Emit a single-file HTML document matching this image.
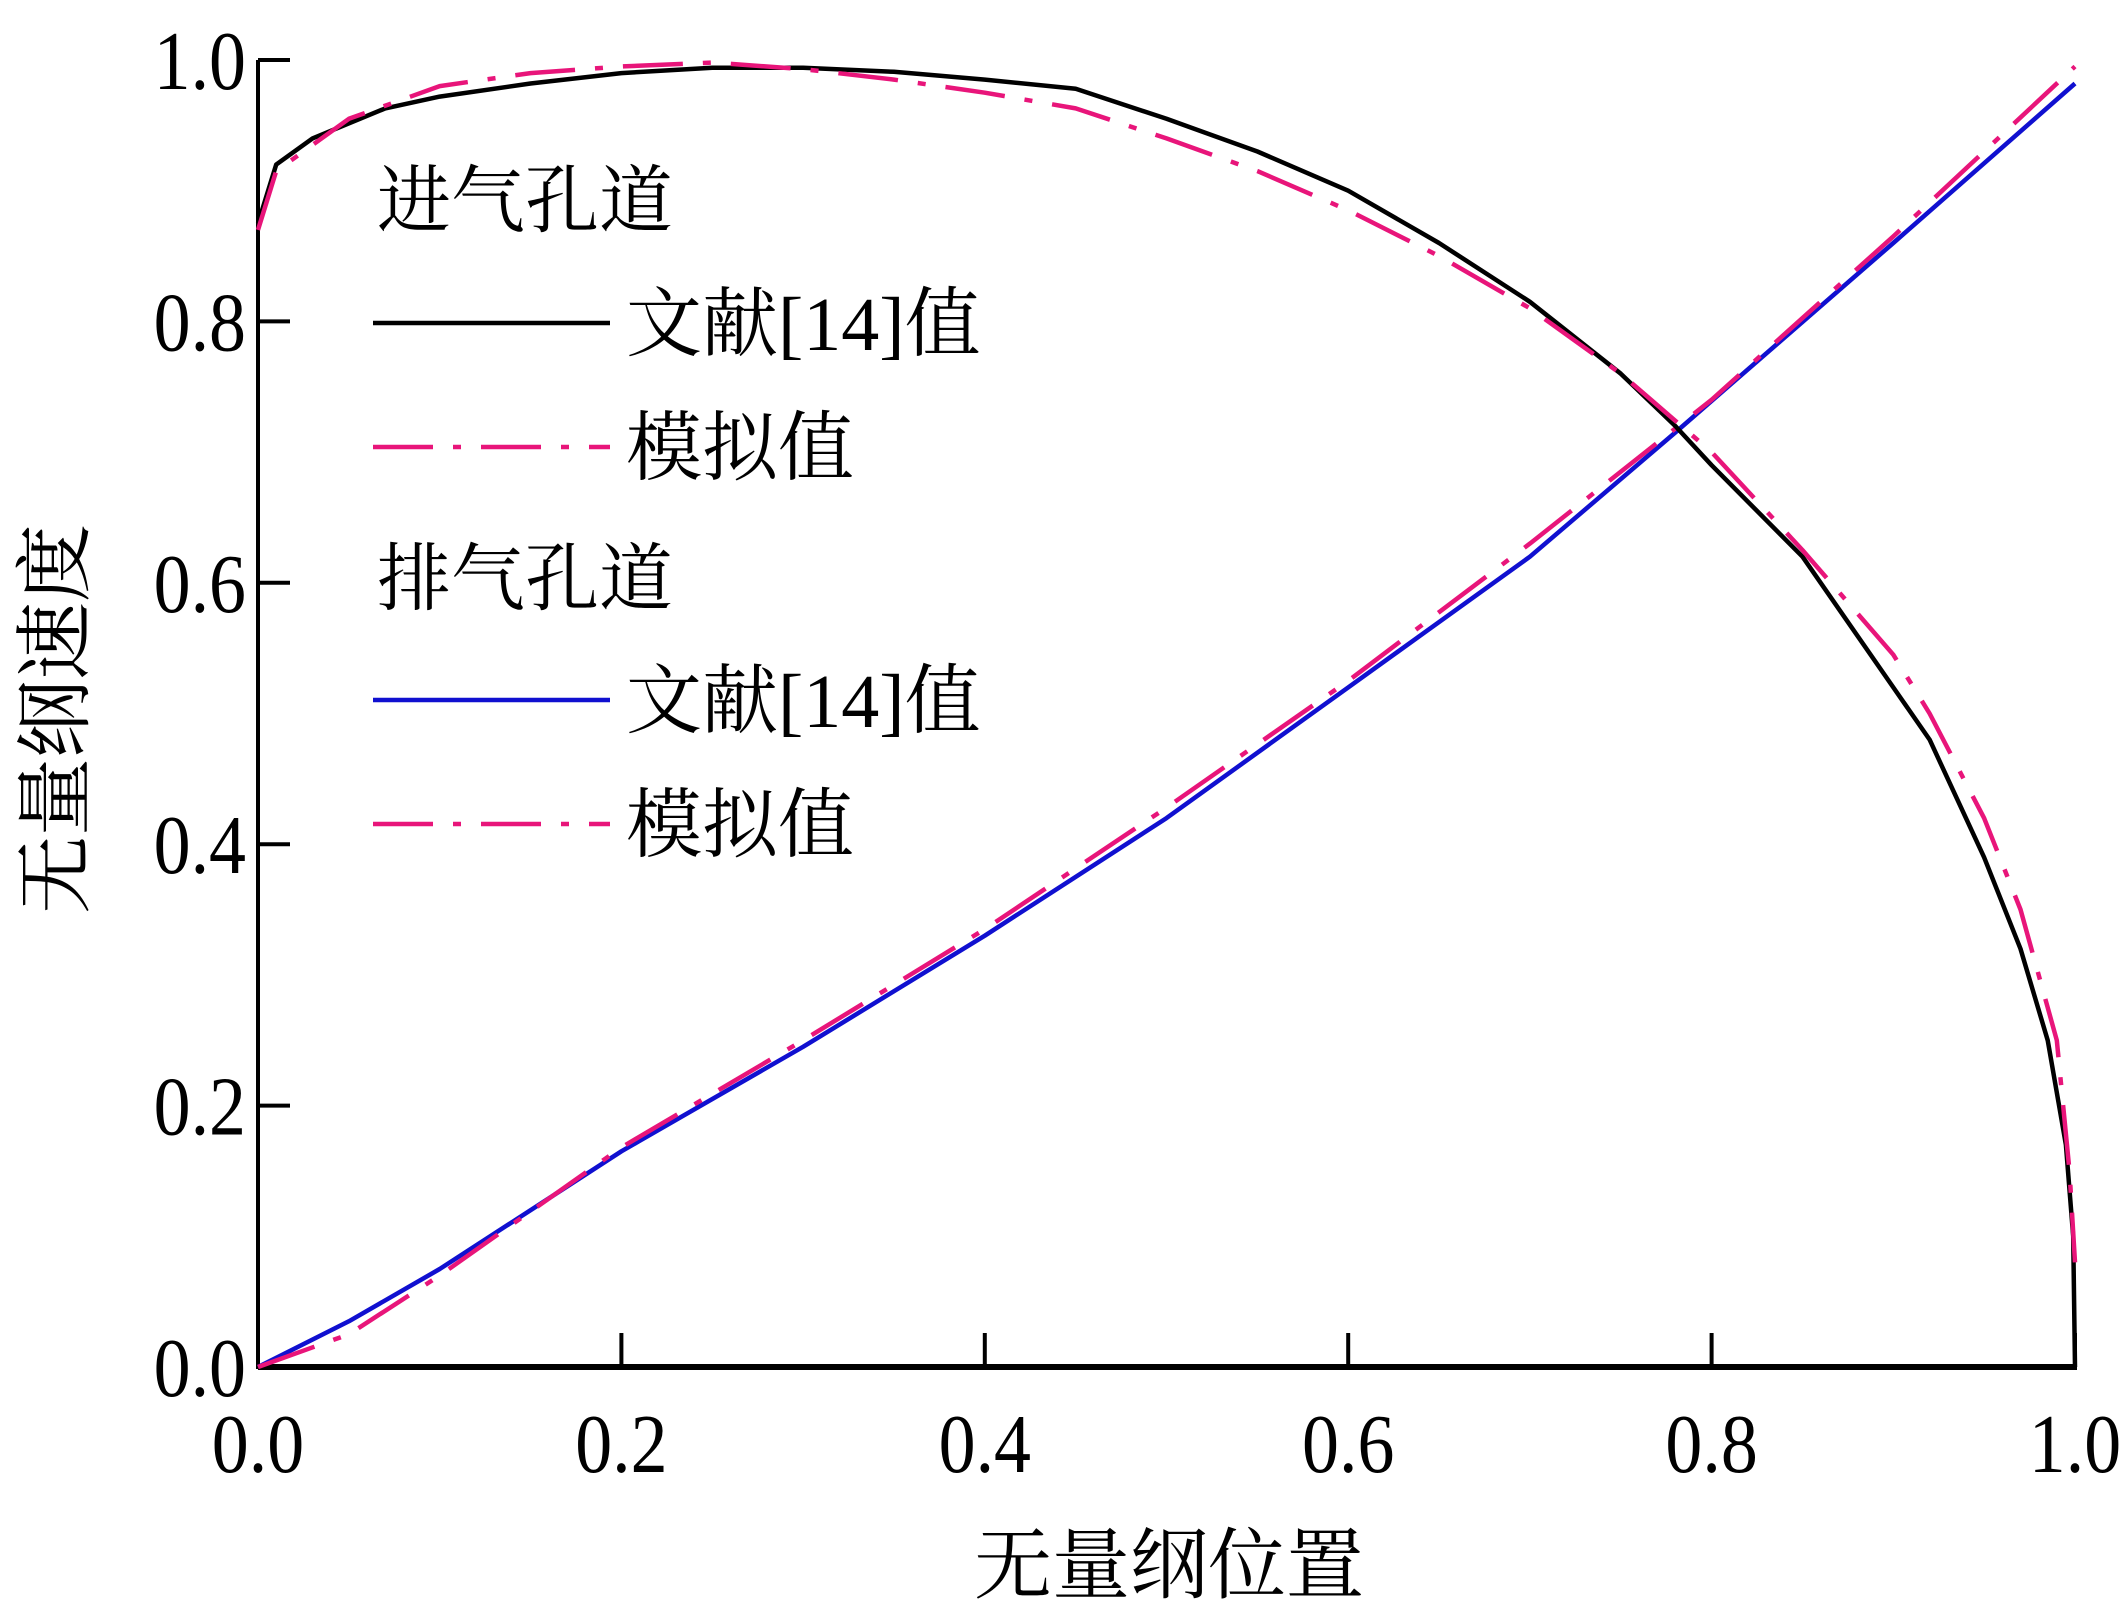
<!DOCTYPE html>
<html><head><meta charset="utf-8"><style>
body{margin:0;background:#fff}
svg{display:block}
text{font-family:"Liberation Serif","Noto Serif CJK SC",serif;fill:#000}
.cjk{font-family:"Noto Serif CJK SC","WenQuanYi Zen Hei",serif}
</style></head><body>
<svg id="chart" width="2126" height="1615" viewBox="0 0 2126 1615" xmlns="http://www.w3.org/2000/svg">
<g id="axes"></g>
<g id="series"></g>
<g>
<text class="cjk" x="377" y="226" font-size="74">进气孔道</text>
<line x1="373" y1="323" x2="610" y2="323" stroke="#000" stroke-width="4.5"/>
<text x="626" y="350" font-size="76"><tspan class="cjk">文献</tspan>[14]<tspan class="cjk">值</tspan></text>
<line x1="373" y1="447" x2="610" y2="447" stroke="#e8157a" stroke-width="4.5" stroke-dasharray="60 20 8 20"/>
<text class="cjk" x="626" y="474" font-size="76">模拟值</text>
<text class="cjk" x="377" y="604" font-size="74">排气孔道</text>
<line x1="373" y1="700" x2="610" y2="700" stroke="#1010d0" stroke-width="4.5"/>
<text x="626" y="727" font-size="76"><tspan class="cjk">文献</tspan>[14]<tspan class="cjk">值</tspan></text>
<line x1="373" y1="824" x2="610" y2="824" stroke="#e8157a" stroke-width="4.5" stroke-dasharray="60 20 8 20"/>
<text class="cjk" x="626" y="851" font-size="76">模拟值</text>
</g>
<text class="cjk" x="1169" y="1592" font-size="78" text-anchor="middle">无量纲位置</text>
<text class="cjk" x="0" y="0" font-size="78" text-anchor="middle" transform="translate(82,719) rotate(-90)">无量纲速度</text>
</svg>
<script>
const xTicks=[0,0.2,0.4,0.6,0.8,1.0];
const yTicks=[0,0.2,0.4,0.6,0.8,1.0];
const tickLabels=["0.0","0.2","0.4","0.6","0.8","1.0"];
const intakeRefX=[0,0.01,0.03,0.07,0.1,0.15,0.2,0.25,0.3,0.35,0.4,0.45,0.5,0.55,0.6,0.65,0.7,0.75,0.78,0.8,0.85,0.9,0.92,0.95,0.97,0.985,0.995,0.999,1.0];
const intakeRefY=[0.875,0.92,0.94,0.963,0.972,0.982,0.99,0.994,0.994,0.991,0.985,0.978,0.955,0.93,0.9,0.86,0.815,0.76,0.72,0.69,0.62,0.52,0.48,0.39,0.32,0.25,0.17,0.1,0];
const intakeSimX=[0,0.01,0.05,0.1,0.15,0.2,0.25,0.3,0.35,0.4,0.45,0.5,0.55,0.6,0.65,0.7,0.75,0.8,0.85,0.9,0.92,0.95,0.97,0.99,0.997,1.0];
const intakeSimY=[0.87,0.915,0.955,0.98,0.99,0.995,0.998,0.993,0.985,0.975,0.963,0.94,0.915,0.885,0.85,0.81,0.76,0.7,0.625,0.545,0.5,0.42,0.35,0.25,0.15,0.08];
const exhRefX=[0,0.05,0.1,0.2,0.3,0.4,0.5,0.6,0.7,0.78,0.9,1.0];
const exhRefY=[0,0.035,0.075,0.165,0.245,0.33,0.42,0.52,0.62,0.715,0.86,0.982];
const exhSimX=[0,0.05,0.1,0.2,0.3,0.4,0.5,0.6,0.7,0.8,0.9,1.0];
const exhSimY=[0,0.025,0.07,0.168,0.25,0.335,0.428,0.525,0.63,0.74,0.865,0.995];
const X0=258,X1=2075,Y0=1367,Y1=60;
const sx=v=>X0+(X1-X0)*v, sy=v=>Y0-(Y0-Y1)*v;
const NS="http://www.w3.org/2000/svg";
const axes=document.getElementById('axes'), ser=document.getElementById('series');
function mk(t,a,p){const e=document.createElementNS(NS,t);for(const k in a)e.setAttribute(k,a[k]);p.appendChild(e);return e;}
let e=mk('line',{x1:X0,y1:Y0,x2:X1+2,y2:Y0,stroke:'#000','stroke-width':6},axes);


e=mk('line',{x1:X0,y1:Y0+2,x2:X0,y2:Y1,stroke:'#000','stroke-width':4},axes);


xTicks.forEach((v,i)=>{
 let t=mk('line',{x1:sx(v),y1:Y0,x2:sx(v),y2:Y0-34,stroke:'#000','stroke-width':4},axes);
 
 
 let l=mk('text',{x:0,y:0,'font-size':84,'text-anchor':'middle',transform:`translate(${sx(v)},1472) scale(0.88,1)`},axes);
 l.textContent=tickLabels[i];
 
 
});
yTicks.forEach((v,i)=>{
 let t=mk('line',{x1:X0,y1:sy(v),x2:X0+32,y2:sy(v),stroke:'#000','stroke-width':4},axes);
 
 
 let l=mk('text',{x:0,y:0,'font-size':84,'text-anchor':'end',transform:`translate(${X0-12},${sy(v)+29}) scale(0.88,1)`},axes);
 l.textContent=tickLabels[i];
 
 
});
function path(xs,ys,color,dash,name){
 const d=xs.map((x,i)=>(i?'L':'M')+sx(x).toFixed(1)+' '+sy(ys[i]).toFixed(1)).join(' ');
 const p=mk('path',{d:d,fill:'none',stroke:color,'stroke-width':4.5,'stroke-linejoin':'round'},ser);
 if(dash)p.setAttribute('stroke-dasharray','60 20 8 20');
 
 
}
path(exhRefX,exhRefY,'#1010d0',false,'exhaust-reference-line');
path(exhSimX,exhSimY,'#e8157a',true,'exhaust-simulated-line');
path(intakeRefX,intakeRefY,'#000',false,'intake-reference-line');
path(intakeSimX,intakeSimY,'#e8157a',true,'intake-simulated-line');
</script>
</body></html>
